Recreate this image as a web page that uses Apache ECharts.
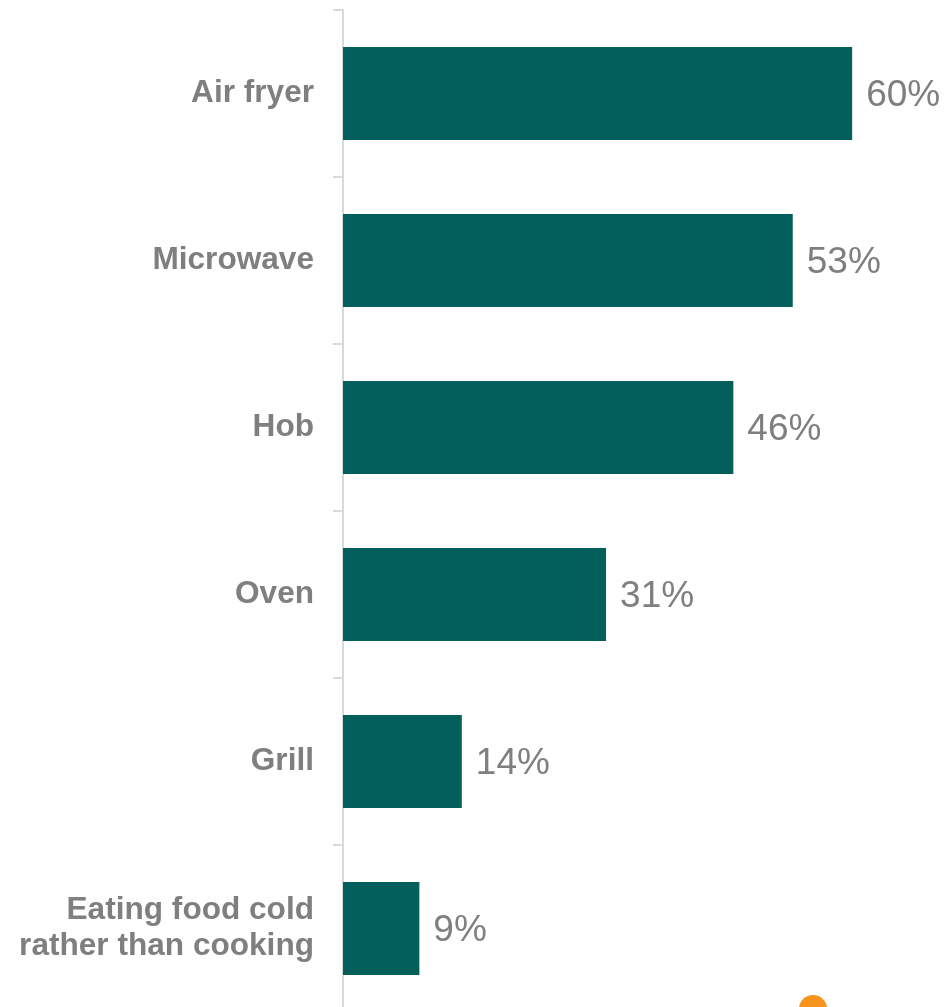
<!DOCTYPE html>
<html>
<head>
<meta charset="utf-8">
<script src="https://cdn.jsdelivr.net/npm/echarts@6/dist/echarts.min.js"></script>
<style>
  html, body { margin: 0; padding: 0; background: #ffffff; overflow: hidden; }
  /* the last category band runs a few pixels past the bottom of the window */
  #chart { width: 946px; height: 1012px; }
</style>
</head>
<body>
<div id="chart"></div>
<script>
// Cooking methods and share of respondents using each (%)
const categories = [
  'Air fryer',
  'Microwave',
  'Hob',
  'Oven',
  'Grill',
  'Eating food cold\nrather than cooking'
];
const shares = [60, 53, 46, 31, 14, 9];

const FONT = '"Liberation Sans", Arial, sans-serif';
const GREY = '#7f7f7f';

const chart = echarts.init(document.getElementById('chart'), null, { renderer: 'canvas' });

chart.setOption({
  backgroundColor: '#ffffff',
  animation: false,
  grid: { left: 343, right: 9, top: 10, bottom: 0, containLabel: false },
  xAxis: {
    type: 'value',
    min: 0,
    max: 70,
    show: false
  },
  yAxis: {
    type: 'category',
    data: categories,
    inverse: true,
    axisLine: { show: true, lineStyle: { color: '#d9d9d9', width: 2 } },
    axisTick: { show: true, length: 10, lineStyle: { color: '#d9d9d9', width: 2 } },
    axisLabel: {
      margin: 29,
      fontFamily: FONT,
      fontSize: 31.6,
      fontWeight: 'bold',
      color: GREY,
      align: 'right',
      lineHeight: 36,
      padding: [4, 0, 0, 0]
    },
    splitLine: { show: false }
  },
  series: [{
    type: 'bar',
    data: shares,
    barWidth: 93,
    itemStyle: { color: '#025f5b' },
    label: {
      show: true,
      position: 'right',
      distance: 14,
      offset: [0, 2],
      formatter: '{c}%',
      fontFamily: FONT,
      fontSize: 37,
      color: GREY
    }
  }],
  graphic: [{
    type: 'circle',
    shape: { cx: 813, cy: 1009, r: 14 },
    style: { fill: '#f7941d' }
  }]
});
</script>
</body>
</html>
